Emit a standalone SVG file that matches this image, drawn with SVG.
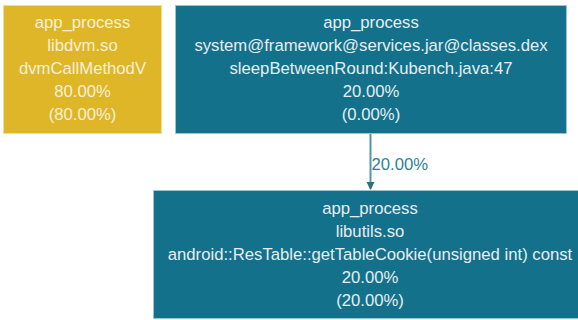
<svg xmlns="http://www.w3.org/2000/svg" width="578" height="320" viewBox="0 0 578 320">
<defs>
<style>
.t{font-family:"Liberation Sans",Arial,sans-serif;font-size:16.7px;text-anchor:middle}
.tw{fill:#e6eef1}
.ty{fill:#f7f0d6}
.teal{fill:#13718b;stroke:#9cc5d1;stroke-width:1}
.yel{fill:#dfb628;stroke:#f1dc94;stroke-width:1}
.edge{stroke:#4e97ae;stroke-width:2;fill:none}
.el{font-family:"Liberation Sans",Arial,sans-serif;font-size:16.7px;fill:#2f7f98}
</style>
<marker id="ah" markerWidth="8" markerHeight="10" refX="7" refY="4" orient="auto" markerUnits="userSpaceOnUse" viewBox="0 0 8 8">
<path d="M0,0 L8,4 L0,8 Z" fill="#2f6f85"/>
</marker>
</defs>
<rect width="578" height="320" fill="#ffffff"/>
<g id="connectors">
<line class="edge" x1="370.5" y1="134" x2="370.5" y2="189" marker-end="url(#ah)"/>
<text class="el" x="371.5" y="170">20.00%</text>
</g>
<g id="node1">
<rect class="yel" x="3.5" y="5.5" width="158" height="128"/>
<text class="t ty" x="82.5" y="28.3">app_process</text>
<text class="t ty" x="82.5" y="51.2">libdvm.so</text>
<text class="t ty" x="82.5" y="74.1">dvmCallMethodV</text>
<text class="t ty" x="82.5" y="97">80.00%</text>
<text class="t ty" x="82.5" y="119.9">(80.00%)</text>
</g>
<g id="node2">
<rect class="teal" x="175.5" y="5.5" width="391" height="128"/>
<text class="t tw" x="371" y="28.3">app_process</text>
<text class="t tw" x="371" y="51.2">system@framework@services.jar@classes.dex</text>
<text class="t tw" x="371" y="74.1">sleepBetweenRound:Kubench.java:47</text>
<text class="t tw" x="371" y="97">20.00%</text>
<text class="t tw" x="371" y="119.9">(0.00%)</text>
</g>
<g id="node3">
<rect class="teal" x="153.5" y="190.5" width="436" height="128"/>
<text class="t tw" x="370" y="214.3">app_process</text>
<text class="t tw" x="370" y="237.3">libutils.so</text>
<text class="t tw" x="370" y="260.3">android::ResTable::getTableCookie(unsigned int) const</text>
<text class="t tw" x="370" y="283.3">20.00%</text>
<text class="t tw" x="370" y="306.3">(20.00%)</text>
</g>
</svg>
